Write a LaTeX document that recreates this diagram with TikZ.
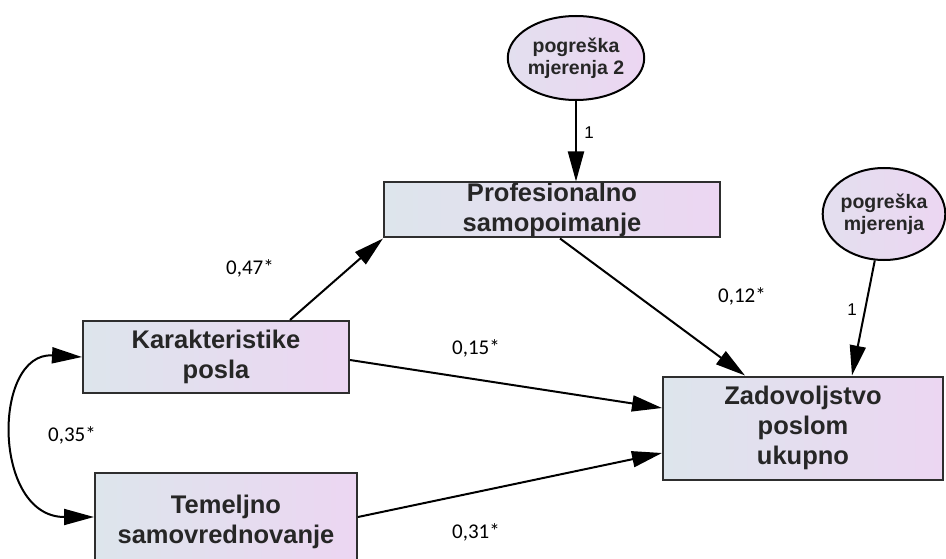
\documentclass[tikz,border=0pt]{standalone}
\usepackage{fontspec}
\setmainfont{Liberation Sans}
\newfontfamily\coeffont{Carlito}
\usepackage{xcolor}
\usetikzlibrary{arrows.meta,shapes.geometric}

\definecolor{boxleft}{HTML}{DDE5EC}
\definecolor{boxright}{HTML}{ECD6F2}
\definecolor{edgegray}{HTML}{2E2E2E}

\begin{document}
\begin{tikzpicture}[x=1pt,y=-1pt,
    var/.style={draw=edgegray, line width=2pt, left color=boxleft, right color=boxright,
        align=center, font=\fontsize{25.5}{30}\selectfont\bfseries, text=black!85, inner sep=0pt},
    err/.style={ellipse, draw=black, line width=2pt, left color=boxleft!60!boxright, right color=boxright,
        align=center, font=\fontsize{19.5}{22}\selectfont\bfseries, text=black!85, inner sep=0pt},
    coef/.style={font=\coeffont\fontsize{21}{24}\selectfont},
    path/.style={draw=black, line width=2pt, -{Triangle[length=30pt,width=16pt]}}]
    % Setup
    \useasboundingbox[fill=white] (0,0) rectangle (946,559);

    % Measured variables
    \node[var, minimum width=336, minimum height=55] (prof) at (552,210) {Profesionalno\\samopoimanje};
    \node[var, minimum width=266, minimum height=72] (karak) at (216,357) {Karakteristike\\posla};
    \node[var, minimum width=262, minimum height=98] (temelj) at (226,522) {Temeljno\\samovrednovanje};
    \node[var, minimum width=280, minimum height=103] (zad) at (803,428) {Zadovoljstvo\\poslom\\ukupno};

    % Error terms
    \node[err, minimum width=124, minimum height=84] (err1) at (576,58) {pogreška\\mjerenja 2};
    \node[err, minimum width=114, minimum height=92] (err2) at (884,214) {pogreška\\mjerenja};

    % Paths
    \draw[path] (err1.south) -- (err1.south |- prof.north);
    \draw[path] (err2) -- ([xshift=49pt]zad.north);
    \draw[path] ([xshift=74pt]karak.north) -- (prof.south west);
    \draw[path] ([xshift=8pt]prof.south) -- ([xshift=-58pt]zad.north);
    \draw[path] ([yshift=-3pt]karak.east) -- ([yshift=20pt]zad.west);
    \draw[path] ([yshift=5pt]temelj.east) -- ([yshift=-25pt]zad.west);

    % Covariance
    \draw[line width=2pt, {Triangle[length=30pt,width=16pt]}-{Triangle[length=30pt,width=16pt]}]
        (karak.west) .. controls (-8,352) and (-8,517) .. ([yshift=5pt]temelj.west);

    % Coefficients
    \node[coef] (c47) at (250,268) {0,47*};
    \node[coef] (c12) at (742,296) {0,12*};
    \node[coef] (c15) at (476,348) {0,15*};
    \node[coef] (c31) at (476,532) {0,31*};
    \node[coef] (c35) at (72,435) {0,35*};
    \node[font=\fontsize{17}{20}\selectfont] (one1) at (589,133) {1};
    \node[font=\fontsize{17}{20}\selectfont] (one2) at (852,310) {1};
\end{tikzpicture}
\end{document}
